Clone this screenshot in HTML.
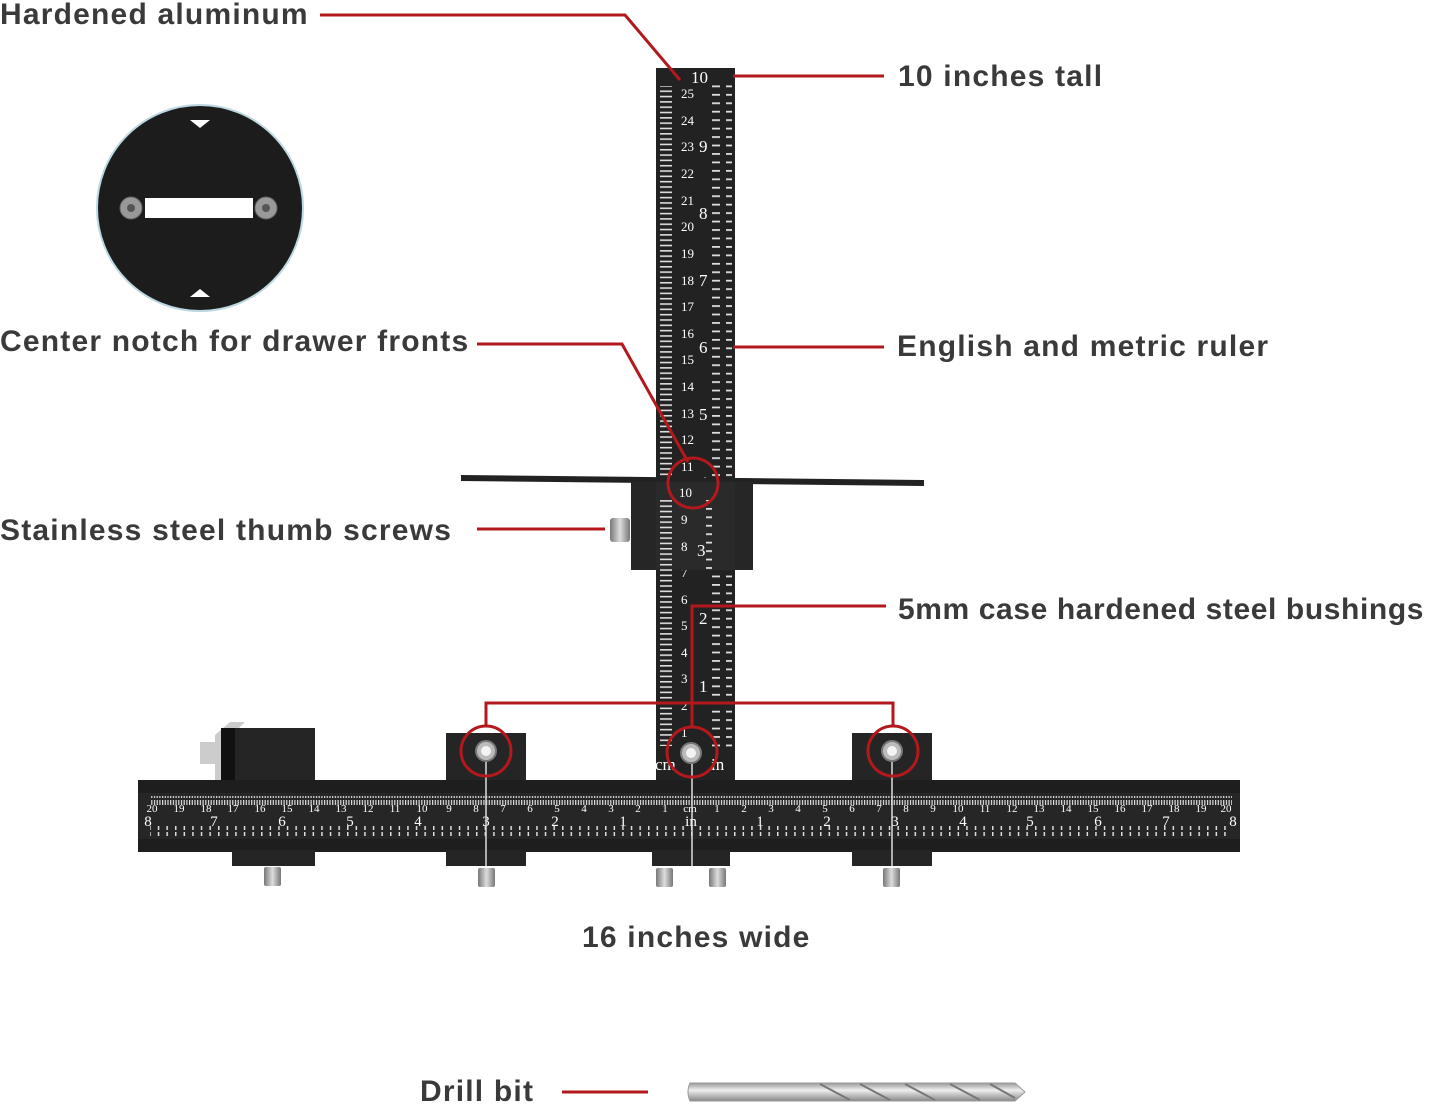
<!DOCTYPE html>
<html><head><meta charset="utf-8"><style>
html,body{margin:0;padding:0;background:#fff;width:1445px;height:1107px;overflow:hidden}
svg{display:block}
.lb{font-family:"Liberation Sans",sans-serif;font-weight:bold;font-size:30px;letter-spacing:1.2px;fill:#3a3a3a}
.vn{font-family:"Liberation Serif",serif;font-size:13px;fill:#fff}
.vi{font-family:"Liberation Serif",serif;font-size:17px;fill:#fff}
.hn{font-family:"Liberation Serif",serif;font-size:11px;fill:#fff}
.hi{font-family:"Liberation Serif",serif;font-size:15px;fill:#fff}
</style></head><body>
<svg width="1445" height="1107" viewBox="0 0 1445 1107" xmlns="http://www.w3.org/2000/svg">
<defs>
<pattern id="vl" x="0" y="0" width="20" height="5.32" patternUnits="userSpaceOnUse"><rect x="0" y="0" width="12" height="1.6" fill="#ddd"/></pattern>
<pattern id="vr" x="0" y="77" width="20" height="8.45" patternUnits="userSpaceOnUse"><rect x="6" y="0" width="14" height="1.8" fill="#ddd"/></pattern>
<pattern id="ht" x="0" y="0" width="2.7" height="10" patternUnits="userSpaceOnUse"><rect x="0" y="0" width="1.2" height="8" fill="#ddd"/></pattern>
<pattern id="hb" x="3" y="0" width="8.6" height="10" patternUnits="userSpaceOnUse"><rect x="0" y="2" width="1.5" height="8" fill="#ddd"/></pattern>
<linearGradient id="scr" x1="0" x2="1"><stop offset="0" stop-color="#777"/><stop offset=".5" stop-color="#ddd"/><stop offset="1" stop-color="#777"/></linearGradient>
<linearGradient id="drl" y1="0" y2="1" x1="0" x2="0"><stop offset="0" stop-color="#999"/><stop offset=".4" stop-color="#eee"/><stop offset="1" stop-color="#888"/></linearGradient>
</defs>

<circle cx="200" cy="208" r="103" fill="#1c1c1c" stroke="#bcd8e2" stroke-width="2"/>
<path d="M190 120 L200 128 L210 120Z M190 297 L200 289 L210 297Z" fill="#fff"/>
<rect x="145" y="198" width="108" height="20" fill="#fff"/>
<circle cx="131" cy="208" r="11" fill="#999" stroke="#666"/><circle cx="131" cy="208" r="4" fill="#555"/>
<circle cx="266" cy="208" r="11" fill="#999" stroke="#666"/><circle cx="266" cy="208" r="4" fill="#555"/>

<rect x="656" y="68" width="79" height="715" fill="#222"/>
<rect x="660" y="86" width="14" height="660" fill="url(#vl)"/>
<rect x="712" y="80" width="20" height="670" fill="url(#vr)"/>
<g class="vn">
<text x="681" y="98">25</text><text x="681" y="125">24</text><text x="681" y="151">23</text><text x="681" y="178">22</text><text x="681" y="205">21</text><text x="681" y="231">20</text><text x="681" y="258">19</text><text x="681" y="285">18</text><text x="681" y="311">17</text><text x="681" y="338">16</text><text x="681" y="364">15</text><text x="681" y="391">14</text><text x="681" y="418">13</text><text x="681" y="444">12</text><text x="681" y="471">11</text><text x="681" y="577">7</text><text x="681" y="604">6</text><text x="681" y="630">5</text><text x="681" y="657">4</text><text x="681" y="683">3</text><text x="681" y="710">2</text><text x="681" y="737">1</text>
</g>
<g class="vi">
<text x="691" y="83">10</text><text x="699" y="152">9</text><text x="699" y="219">8</text><text x="699" y="286">7</text><text x="699" y="353">6</text><text x="699" y="420">5</text><text x="699" y="488">4</text><text x="699" y="624">2</text><text x="699" y="692">1</text>
</g>
<text x="655" y="770" class="vi">cm</text><text x="711" y="770" class="vi">in</text>

<polygon points="461,475 924,480 924,486 461,481" fill="#222"/>
<rect x="631" y="482" width="122" height="88" fill="#262626"/>
<rect x="656" y="482" width="79" height="88" fill="#2a2a2a"/>
<rect x="660" y="500" width="12" height="70" fill="url(#vl)"/>
<rect x="704" y="500" width="8" height="70" fill="url(#vr)"/>
<g class="vn"><text x="679" y="497">10</text><text x="681" y="524">9</text><text x="681" y="551">8</text></g>
<text x="697" y="556" class="vi">3</text>
<rect x="610" y="518" width="20" height="24" rx="3" fill="url(#scr)"/>

<polygon points="215,735 230,722 245,722 232,735 232,782 215,782" fill="#ccc"/>
<rect x="200" y="742" width="16" height="22" fill="#ccc"/>
<rect x="221" y="728" width="14" height="54" fill="#111"/>
<rect x="235" y="728" width="80" height="54" fill="#252525"/>
<rect x="446" y="733" width="80" height="50" fill="#252525"/>
<rect x="852" y="733" width="80" height="50" fill="#252525"/>

<rect x="138" y="780" width="1102" height="72" fill="#1e1e1e"/>
<rect x="138" y="793" width="1102" height="46" fill="#262626"/>
<rect x="150" y="796" width="1082" height="9" fill="url(#ht)"/>
<rect x="150" y="826" width="1082" height="10" fill="url(#hb)"/>
<g class="hn" text-anchor="middle">
<text x="152" y="812">20</text><text x="179" y="812">19</text><text x="206" y="812">18</text><text x="233" y="812">17</text><text x="260" y="812">16</text><text x="287" y="812">15</text><text x="314" y="812">14</text><text x="341" y="812">13</text><text x="368" y="812">12</text><text x="395" y="812">11</text><text x="422" y="812">10</text><text x="449" y="812">9</text><text x="476" y="812">8</text><text x="503" y="812">7</text><text x="530" y="812">6</text><text x="557" y="812">5</text><text x="584" y="812">4</text><text x="611" y="812">3</text><text x="638" y="812">2</text><text x="665" y="812">1</text><text x="690" y="812">cm</text><text x="717" y="812">1</text><text x="744" y="812">2</text><text x="771" y="812">3</text><text x="798" y="812">4</text><text x="825" y="812">5</text><text x="852" y="812">6</text><text x="879" y="812">7</text><text x="906" y="812">8</text><text x="933" y="812">9</text><text x="958" y="812">10</text><text x="985" y="812">11</text><text x="1012" y="812">12</text><text x="1039" y="812">13</text><text x="1066" y="812">14</text><text x="1093" y="812">15</text><text x="1120" y="812">16</text><text x="1147" y="812">17</text><text x="1174" y="812">18</text><text x="1201" y="812">19</text><text x="1226" y="812">20</text>
</g>
<g class="hi" text-anchor="middle">
<text x="148" y="826">8</text><text x="214" y="826">7</text><text x="282" y="826">6</text><text x="350" y="826">5</text><text x="418" y="826">4</text><text x="486" y="826">3</text><text x="555" y="826">2</text><text x="623" y="826">1</text><text x="691" y="826">in</text><text x="760" y="826">1</text><text x="827" y="826">2</text><text x="895" y="826">3</text><text x="963" y="826">4</text><text x="1030" y="826">5</text><text x="1098" y="826">6</text><text x="1166" y="826">7</text><text x="1233" y="826">8</text>
</g>

<rect x="232" y="850" width="83" height="16" fill="#252525"/>
<rect x="446" y="850" width="80" height="16" fill="#252525"/>
<rect x="652" y="850" width="78" height="16" fill="#252525"/>
<rect x="852" y="850" width="80" height="16" fill="#252525"/>
<line x1="486" y1="760" x2="486" y2="866" stroke="#ddd" stroke-width="1.5"/>
<line x1="892" y1="760" x2="892" y2="866" stroke="#ddd" stroke-width="1.5"/>
<line x1="692" y1="760" x2="692" y2="866" stroke="#ddd" stroke-width="1.5"/>
<g fill="url(#scr)">
<rect x="264" y="867" width="17" height="19" rx="2"/><rect x="478" y="868" width="17" height="19" rx="2"/><rect x="656" y="868" width="17" height="19" rx="2"/><rect x="709" y="868" width="17" height="19" rx="2"/><rect x="883" y="868" width="17" height="19" rx="2"/>
</g>

<g fill="#bbb" stroke="#777" stroke-width="2">
<circle cx="486" cy="751" r="10"/><circle cx="691" cy="753" r="10"/><circle cx="892" cy="751" r="10"/>
</g>
<g fill="#f4f4f4"><circle cx="486" cy="751" r="5"/><circle cx="691" cy="753" r="5"/><circle cx="892" cy="751" r="5"/></g>

<g stroke="#b3191c" stroke-width="3" fill="none">
<polyline points="320,15 625,15 680,80"/>
<line x1="733" y1="76" x2="884" y2="76"/>
<polyline points="477,344 622,344 688,462"/>
<circle cx="693" cy="483" r="25"/>
<line x1="733" y1="347" x2="884" y2="347"/>
<line x1="477" y1="529" x2="605" y2="529"/>
<polyline points="886,606 692,606 692,728"/>
<polyline points="486,726 486,703 893,703 893,726"/>
<circle cx="486" cy="751" r="25"/>
<circle cx="692" cy="752" r="25"/>
<circle cx="893" cy="751" r="25"/>
<line x1="562" y1="1092" x2="648" y2="1092"/>
</g>

<path d="M690 1083 L1015 1083 L1025 1092 L1015 1101 L690 1101 Q686 1092 690 1083Z" fill="url(#drl)" stroke="#999"/>
<g stroke="#777" stroke-width="2" fill="none"><path d="M820 1084 L850 1100 M860 1084 L890 1100 M905 1084 L935 1100 M950 1084 L980 1100 M990 1084 L1015 1098"/></g>

<g class="lb">
<text x="0" y="24">Hardened aluminum</text>
<text x="898" y="86">10 inches tall</text>
<text x="0" y="351">Center notch for drawer fronts</text>
<text x="897" y="356">English and metric ruler</text>
<text x="0" y="540">Stainless steel thumb screws</text>
<text x="898" y="619" style="letter-spacing:0.6px">5mm case hardened steel bushings</text>
<text x="582" y="947">16 inches wide</text>
<text x="420" y="1101">Drill bit</text>
</g>
</svg>
</body></html>
